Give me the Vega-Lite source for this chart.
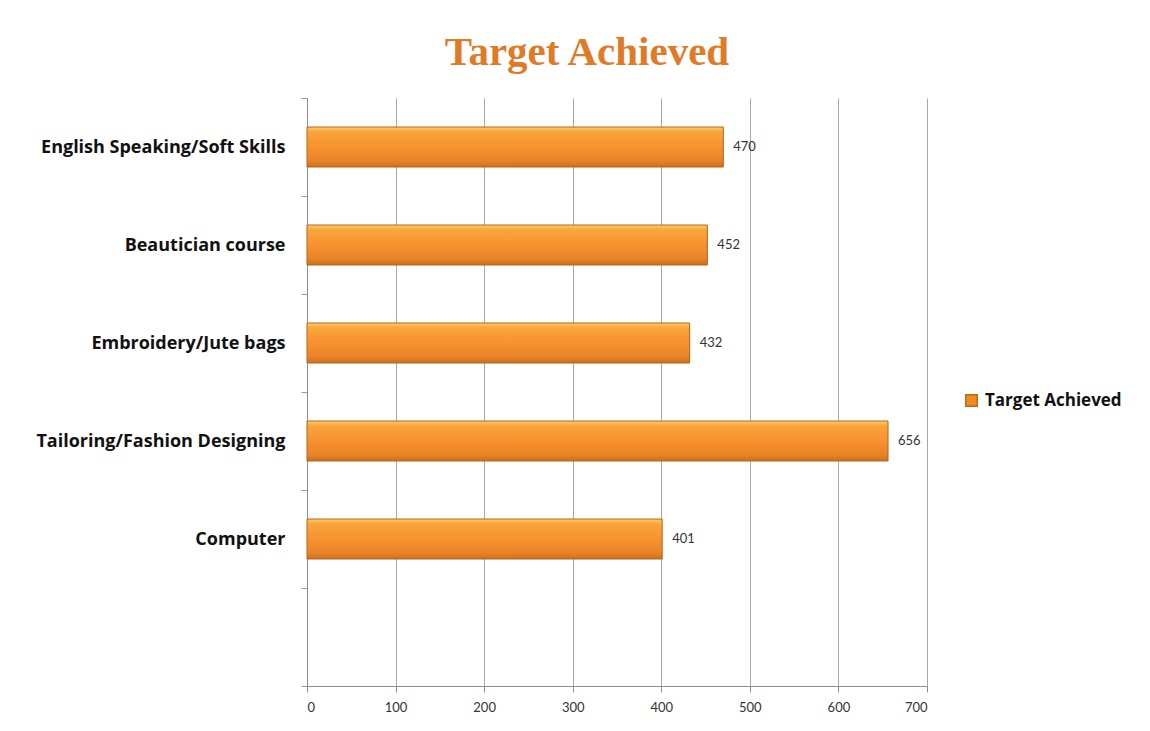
{
  "$schema": "https://vega.github.io/schema/vega-lite/v6.json",
  "autosize": "none",
  "width": 620,
  "height": 588,
  "padding": {"left": 307, "top": 98, "right": 223, "bottom": 45},
  "background": "white",
  "title": {
    "text": "Target Achieved",
    "font": "Liberation Serif",
    "fontSize": 41,
    "fontWeight": "bold",
    "color": "#e07a26",
    "anchor": "middle",
    "dx": -30,
    "offset": 15
  },
  "data": {
    "values": [
      {"course": "English Speaking/Soft Skills", "value": 470},
      {"course": "Beautician course", "value": 452},
      {"course": "Embroidery/Jute bags", "value": 432},
      {"course": "Tailoring/Fashion Designing", "value": 656},
      {"course": "Computer", "value": 401}
    ]
  },
  "encoding": {
    "y": {
      "field": "course",
      "type": "nominal",
      "sort": null,
      "scale": {
        "domain": ["English Speaking/Soft Skills", "Beautician course", "Embroidery/Jute bags", "Tailoring/Fashion Designing", "Computer", " "],
        "paddingInner": 0,
        "paddingOuter": 0
      },
      "axis": {
        "title": null,
        "tickBand": "extent",
        "labelFont": "Open Sans",
        "labelFontSize": 18,
        "labelFontWeight": "bold",
        "labelColor": "#111111",
        "labelPadding": 16,
        "labelLimit": 400,
        "tickSize": 6,
        "tickColor": "#9a9a9a",
        "domainColor": "#8c8c8c",
        "grid": false
      }
    },
    "x": {
      "field": "value",
      "type": "quantitative",
      "scale": {"domain": [0, 700], "nice": false},
      "axis": {
        "title": null,
        "values": [0, 100, 200, 300, 400, 500, 600, 700],
        "labelFont": "Lato",
        "labelFontSize": 13,
        "labelColor": "#333333",
        "labelPadding": 9,
        "tickSize": 6,
        "tickColor": "#8c8c8c",
        "domainColor": "#8c8c8c",
        "grid": true,
        "gridColor": "#a8a8a8"
      }
    }
  },
  "layer": [
    {
      "mark": {"type": "bar", "height": 40},
      "encoding": {
        "color": {
          "datum": "Target Achieved",
          "type": "nominal",
          "scale": {"domain": ["Target Achieved"], "range": ["#f28a24"]},
          "legend": {
            "title": null,
            "orient": "none",
            "legendX": 656,
            "legendY": 294,
            "symbolType": "square",
            "symbolSize": 130,
            "symbolStrokeColor": "#c06a18",
            "labelFont": "Open Sans",
            "labelFontSize": 17,
            "labelFontWeight": "bold",
            "labelColor": "#111111",
            "labelOffset": 5
          }
        }
      }
    },
    {
      "mark": {
        "type": "bar",
        "height": 40,
        "stroke": "#b8641a",
        "strokeWidth": 1,
        "fill": {
          "gradient": "linear",
          "x1": 0, "y1": 0, "x2": 0, "y2": 1,
          "stops": [
            {"offset": 0, "color": "#f8cf6a"},
            {"offset": 0.12, "color": "#f9a53c"},
            {"offset": 0.5, "color": "#f7922e"},
            {"offset": 0.85, "color": "#e98328"},
            {"offset": 1, "color": "#c8701e"}
          ]
        }
      }
    },
    {
      "mark": {
        "type": "text",
        "align": "left",
        "dx": 10,
        "font": "Lato",
        "fontSize": 13,
        "color": "#333333"
      },
      "encoding": {"text": {"field": "value", "type": "quantitative"}}
    }
  ],
  "config": {"view": {"stroke": null}}
}
